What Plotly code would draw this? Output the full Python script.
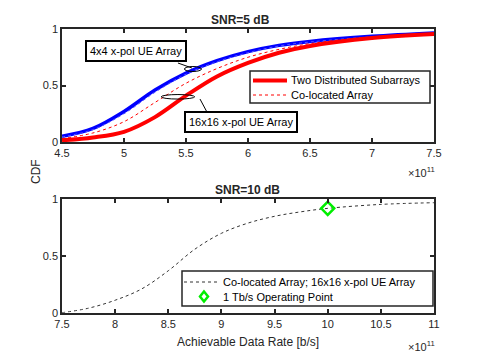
import plotly.graph_objects as go

# rates in units of 1e11 b/s
rate_top = [4.5, 4.75, 5.0, 5.25, 5.5, 5.75, 6.0, 6.25, 6.5, 7.0, 7.5]
cdf_4x4_dist = [0.05, 0.12, 0.27, 0.46, 0.61, 0.72, 0.80, 0.855, 0.89, 0.935, 0.965]
cdf_4x4_coloc = [0.045, 0.11, 0.25, 0.44, 0.60, 0.71, 0.79, 0.85, 0.885, 0.93, 0.96]
cdf_16x16_coloc = [0.03, 0.08, 0.18, 0.35, 0.52, 0.65, 0.75, 0.82, 0.87, 0.93, 0.96]
cdf_16x16_dist = [0.015, 0.04, 0.09, 0.22, 0.41, 0.58, 0.70, 0.79, 0.85, 0.92, 0.955]

rate_bot = [7.5, 7.75, 8.0, 8.25, 8.5, 8.75, 9.0, 9.25, 9.5, 9.75, 10.0, 10.5, 11.0]
cdf_bot = [0.0, 0.04, 0.11, 0.21, 0.37, 0.56, 0.70, 0.79, 0.85, 0.89, 0.92, 0.955, 0.97]
op_rate = [10.0]
op_cdf = [0.92]

font = "Liberation Sans, Arial, sans-serif"
axc = '#262626'
W, H = 480, 360
OFF = 8  # page body margin: figure is drawn 8px in from the window corner


def px(x, y):
    # screen pixel -> paper fraction
    return (x - OFF) / W, 1 - (y - OFF) / H


fig = go.Figure()

fig.add_trace(go.Scatter(x=rate_top, y=cdf_4x4_dist, mode='lines', line=dict(color='#0000ff', width=3.5, shape='spline'),
                         xaxis='x', yaxis='y'))
fig.add_trace(go.Scatter(x=rate_top, y=cdf_4x4_coloc, mode='lines', line=dict(color='#5555ff', width=1, dash='dot', shape='spline'),
                         xaxis='x', yaxis='y'))
fig.add_trace(go.Scatter(x=rate_top, y=cdf_16x16_dist, mode='lines', line=dict(color='#ff0000', width=4, shape='spline'),
                         name='Two Distributed Subarrays', xaxis='x', yaxis='y'))
fig.add_trace(go.Scatter(x=rate_top, y=cdf_16x16_coloc, mode='lines', line=dict(color='#ff0000', width=1, dash='dot', shape='spline'),
                         name='Co-located Array', xaxis='x', yaxis='y'))

fig.add_trace(go.Scatter(x=rate_bot, y=cdf_bot, mode='lines', line=dict(color='#333333', width=1, dash='dot', shape='spline'),
                         name='Co-located Array; 16x16 x-pol UE Array', xaxis='x2', yaxis='y2'))
fig.add_trace(go.Scatter(x=op_rate, y=op_cdf, mode='markers',
                         marker=dict(symbol='diamond-open', size=10, color='#00ee00', line=dict(width=2.5)),
                         name='1 Tb/s Operating Point', xaxis='x2', yaxis='y2'))

ax = dict(showgrid=False, zeroline=False, showline=True, mirror='ticks', linecolor=axc, linewidth=1.5,
          ticks='inside', ticklen=4, tickcolor=axc, tickwidth=1.5, automargin=False,
          tickfont=dict(family=font, size=11, color=axc))

xdom = [px(62, 0)[0], px(434, 0)[0]]
ydom_top = [px(0, 142)[1], px(0, 29)[1]]
ydom_bot = [px(0, 312.7)[1], px(0, 199.3)[1]]

fig.update_layout(
    width=W, height=H,
    showlegend=False,
    margin=dict(l=0, r=0, t=0, b=0, autoexpand=False),
    paper_bgcolor='white', plot_bgcolor='white',
    font=dict(family=font, size=11, color=axc),
    xaxis=dict(ax, domain=xdom, range=[4.5, 7.5], tickvals=[4.5, 5, 5.5, 6, 6.5, 7, 7.5],
               ticktext=['4.5', '5', '5.5', '6', '6.5', '7', '7.5'], anchor='y'),
    yaxis=dict(ax, domain=ydom_top, range=[0, 1], tickvals=[0, 0.5, 1], ticktext=['0', '0.5', '1'], anchor='x'),
    xaxis2=dict(ax, domain=xdom, range=[7.5, 11], tickvals=[7.5, 8, 8.5, 9, 9.5, 10, 10.5, 11],
                ticktext=['7.5', '8', '8.5', '9', '9.5', '10', '10.5', '11'], anchor='y2'),
    yaxis2=dict(ax, domain=ydom_bot, range=[0, 1], tickvals=[0, 0.5, 1], ticktext=['0', '0.5', '1'], anchor='x2'),
)


def label(x, y, text, size=12, **kw):
    a, b = px(x, y)
    fig.add_annotation(text=text, xref='paper', yref='paper', x=a, y=b, showarrow=False,
                       xanchor='center', yanchor='middle', font=dict(size=size, color=axc), **kw)


# titles and labels
label(240, 20, '<b>SNR=5 dB</b>')
label(247, 190, '<b>SNR=10 dB</b>')
label(36, 172, 'CDF', textangle=-90)
label(248, 342, 'Achievable Data Rate [b/s]')
label(421, 172, '\u00d710<sup>11</sup>', size=11)
label(421, 346, '\u00d710<sup>11</sup>', size=11)

# callout boxes
fig.add_annotation(text='4x4 x-pol UE Array', x=5.097, y=0.805, xref='x', yref='y', showarrow=False,
                   bgcolor='white', bordercolor='black', borderwidth=2, borderpad=3, font=dict(size=11, color='black'))
fig.add_annotation(text='16x16 x-pol UE Array', x=5.944, y=0.173, xref='x', yref='y', showarrow=False,
                   bgcolor='white', bordercolor='black', borderwidth=2, borderpad=3, font=dict(size=11, color='black'))

fig.add_shape(type='circle', xref='x', yref='y', x0=5.487, x1=5.625, y0=0.624, y1=0.668, line=dict(color='black', width=1))
fig.add_shape(type='circle', xref='x', yref='y', x0=5.30, x1=5.57, y0=0.38, y1=0.42, line=dict(color='black', width=1))
fig.add_shape(type='line', xref='x', yref='y', x0=5.435, y0=0.699, x1=5.548, y1=0.655, line=dict(color='black', width=1))
fig.add_shape(type='line', xref='x', yref='y', x0=5.613, y0=0.38, x1=5.669, y1=0.265, line=dict(color='black', width=1))


# hand-built legends (MATLAB style boxes)
def legend_box(x0, y0, x1, y1):
    a, b = px(x0, y0)
    c, d = px(x1, y1)
    fig.add_shape(type='rect', xref='paper', yref='paper', x0=a, y0=d, x1=c, y1=b,
                  fillcolor='white', line=dict(color=axc, width=1.5), layer='above')


def legend_line(x0, x1, y, **line):
    a, b = px(x0, y)
    c, _ = px(x1, y)
    fig.add_shape(type='line', xref='paper', yref='paper', x0=a, y0=b, x1=c, y1=b, line=line, layer='above')


def legend_text(x, y, text):
    a, b = px(x, y)
    fig.add_annotation(text=text, xref='paper', yref='paper', x=a, y=b, xanchor='left', yanchor='middle',
                       showarrow=False, font=dict(size=11, color='black'))


legend_box(250, 71, 430, 103)
legend_line(253, 287, 80.5, color='#ff0000', width=4)
legend_text(289, 80.5, 'Two Distributed Subarrays')
legend_line(253, 287, 95, color='#ff0000', width=1, dash='dot')
legend_text(289, 95, 'Co-located Array')

legend_box(182, 271, 433, 306)
legend_line(184, 220, 282, color='#333333', width=1, dash='dot')
legend_text(221, 282, 'Co-located Array; 16x16 x-pol UE Array')
cx, cy = 204, 296.5
pts = [(cx, cy - 5), (cx + 4, cy), (cx, cy + 5), (cx - 4, cy)]
path = 'M ' + ' L '.join(f'{px(x, y)[0]:.4f},{px(x, y)[1]:.4f}' for x, y in pts) + ' Z'
fig.add_shape(type='path', xref='paper', yref='paper', path=path, line=dict(color='#00ee00', width=2.5), layer='above')
legend_text(221, 296.5, '1 Tb/s Operating Point')

fig.write_html("out.html")
